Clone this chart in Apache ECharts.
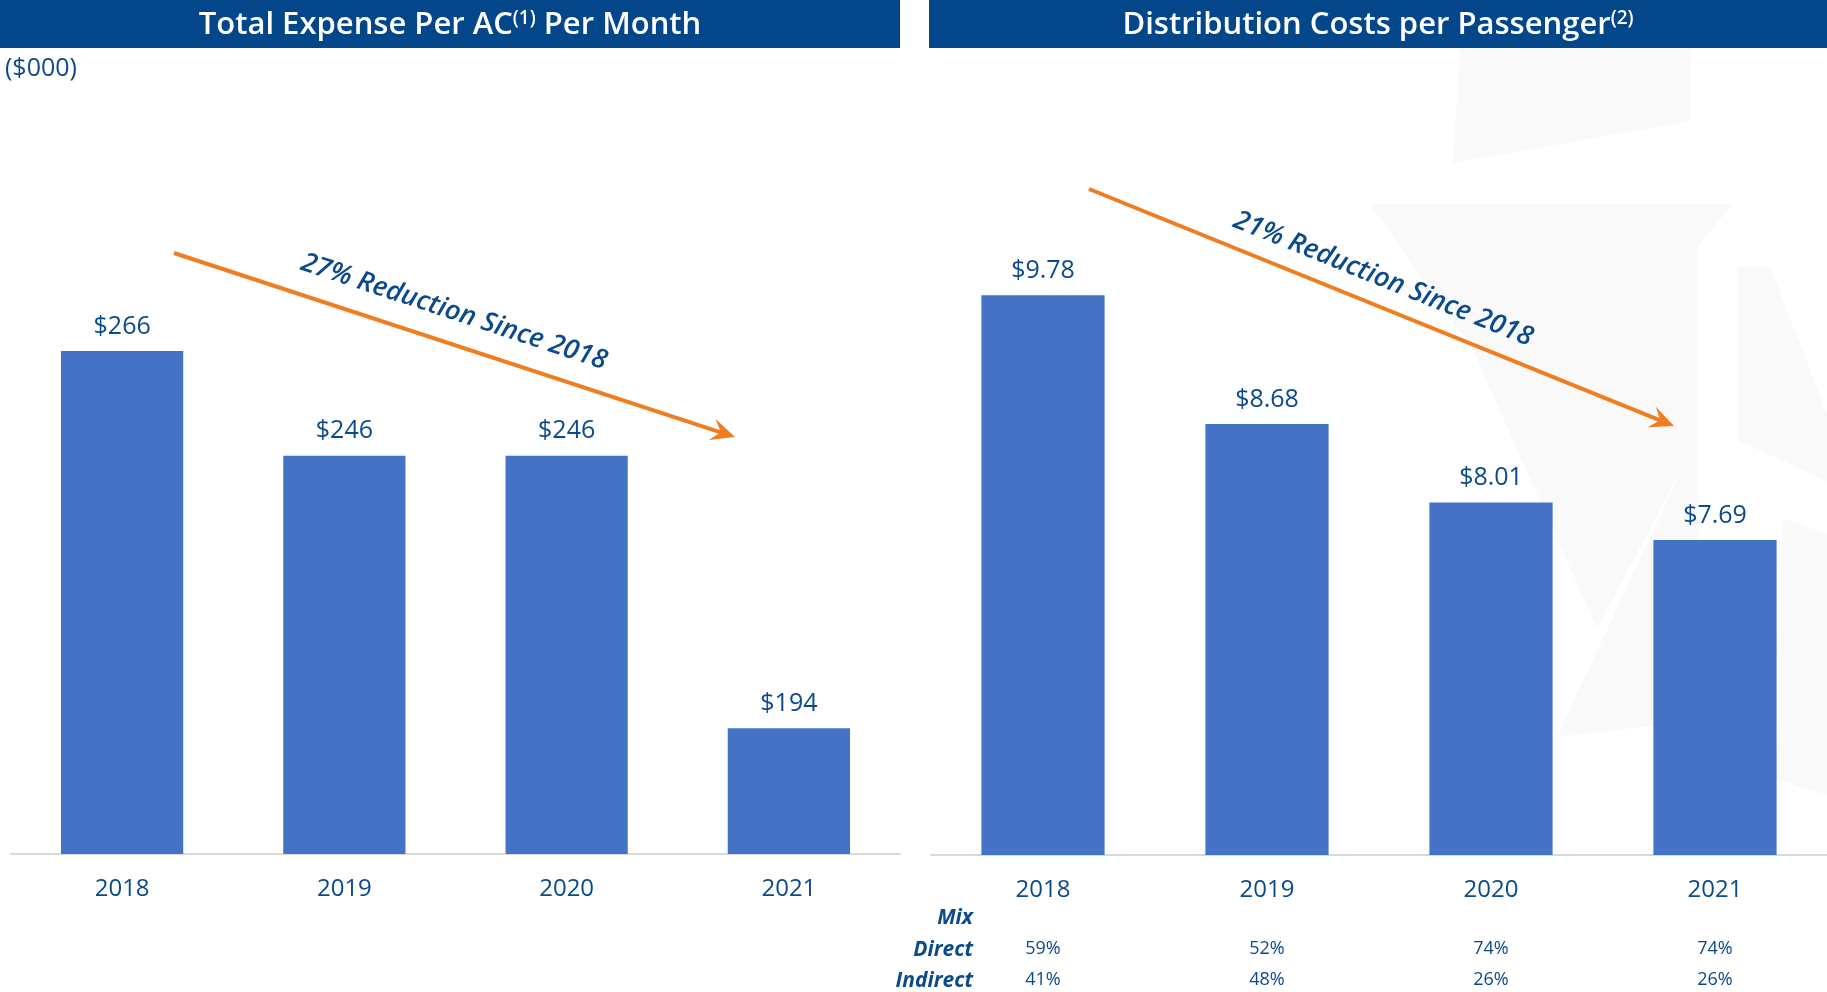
<!DOCTYPE html>
<html>
<head>
<meta charset="utf-8">
<script src="https://cdn.jsdelivr.net/npm/echarts@6/dist/echarts.min.js"></script>
<style>
  html, body { margin: 0; padding: 0; background: #fff; }
  #chart { width: 1827px; height: 992px; }
</style>
</head>
<body>
<div id="chart"></div>
<script>
// data
const years = ['2018', '2019', '2020', '2021'];
const expensePerAc = [266, 246, 246, 194];
const distCostPerPax = [9.78, 8.68, 8.01, 7.69];
const mixDirect = ['59%', '52%', '74%', '74%'];
const mixIndirect = ['41%', '48%', '26%', '26%'];

const NAVY = '#0b4a8b';
const BAR = '#4472c4';
const ORANGE = '#ef7d22';
const FONT = 'Open Sans';

const chart = echarts.init(document.getElementById('chart'));

// arrow made of a line and a notched head
const arrow = (x1, y1, x2, y2) => {
  const len = Math.hypot(x2 - x1, y2 - y1);
  const ux = (x2 - x1) / len, uy = (y2 - y1) / len;
  const px = -uy, py = ux;
  const L = 24, W = 11, N = 15;
  return [
    {
      type: 'line',
      shape: {x1: x1, y1: y1, x2: x2 - ux * N, y2: y2 - uy * N},
      style: {stroke: ORANGE, lineWidth: 4},
      z: 10
    },
    {
      type: 'polygon',
      shape: {
        points: [
          [x2, y2],
          [x2 - ux * L + px * W, y2 - uy * L + py * W],
          [x2 - ux * N, y2 - uy * N],
          [x2 - ux * L - px * W, y2 - uy * L - py * W]
        ]
      },
      style: {fill: ORANGE},
      z: 10
    }
  ];
};

const slopeText = (text, x, y, angleDeg) => ({
  type: 'text',
  x: x, y: y,
  rotation: -angleDeg * Math.PI / 180,
  style: {
    text: text,
    fill: NAVY,
    font: 'italic 600 27px "' + FONT + '"',
    align: 'center',
    verticalAlign: 'middle'
  },
  z: 11
});

const titleText = (text, x) => ({
  type: 'text',
  x: x, y: 25,
  style: {
    text: text,
    fill: '#fff',
    fontFamily: FONT,
    fontSize: 31,
    fontWeight: 600,
    align: 'center',
    verticalAlign: 'middle',
    rich: {
      sup: {fontSize: 19, fontWeight: 600, fill: '#fff', fontFamily: FONT, verticalAlign: 'top', padding: [0, 0, 12, 0]}
    }
  },
  z: 11
});

const watermark = [
  [[1460, 48], [1690, 48], [1690, 121], [1453, 163]],
  [[1370, 204], [1733, 204], [1697, 247], [1697, 440], [1597, 628], [1473, 350]],
  [[1737, 267], [1770, 267], [1827, 413], [1827, 481], [1737, 440]],
  [[1783, 518], [1827, 534], [1827, 795], [1777, 779]],
  [[1557, 737], [1697, 437], [1700, 720]]
].map(pts => ({
  type: 'polygon',
  shape: {points: pts},
  style: {fill: '#f9f9f9'},
  z: -10,
  silent: true
}));

const rowLabel = (text, y) => ({
  type: 'text',
  x: 973, y: y,
  style: {
    text: text,
    fill: NAVY,
    font: 'italic bold 21px "' + FONT + '"',
    align: 'right',
    verticalAlign: 'middle'
  }
});

const xCat = (grid, data, offset, size, showLine) => ({
  type: 'category',
  gridIndex: grid,
  data: data,
  position: 'bottom',
  offset: offset,
  axisLine: {show: showLine, lineStyle: {color: '#d9d9d9', width: 2}},
  axisTick: {show: false},
  axisLabel: {color: NAVY, fontFamily: FONT, fontSize: size, margin: showLine ? 23 : 0}
});

const barLabel = (fmt) => ({
  show: true,
  position: 'top',
  distance: 12,
  color: NAVY,
  fontFamily: FONT,
  fontSize: 25,
  formatter: fmt
});

chart.setOption({
  animation: false,
  grid: [
    {left: 11, width: 889, top: 89, bottom: 138},
    {left: 931, width: 896, top: 89, bottom: 137}
  ],
  xAxis: [
    xCat(0, years, 0, 24, true),
    xCat(1, years, 0, 24, true),
    xCat(1, mixDirect, 85, 18, false),
    xCat(1, mixIndirect, 116, 18, false)
  ],
  yAxis: [
    {type: 'value', gridIndex: 0, min: 170, max: 316, show: false, splitLine: {show: false}},
    {type: 'value', gridIndex: 1, min: 5, max: 11.54, show: false, splitLine: {show: false}}
  ],
  series: [
    {
      type: 'bar',
      xAxisIndex: 0, yAxisIndex: 0,
      data: expensePerAc,
      barWidth: '55%',
      itemStyle: {color: BAR},
      label: barLabel(p => '$' + p.value)
    },
    {
      type: 'bar',
      xAxisIndex: 1, yAxisIndex: 1,
      data: distCostPerPax,
      barWidth: '55%',
      itemStyle: {color: BAR},
      label: barLabel(p => '$' + p.value.toFixed(2))
    }
  ],
  graphic: [
    ...watermark,
    {type: 'rect', shape: {x: 0, y: 0, width: 900, height: 48}, style: {fill: '#03468a'}, z: 10},
    {type: 'rect', shape: {x: 929, y: 0, width: 898, height: 48}, style: {fill: '#03468a'}, z: 10},
    titleText('Total Expense Per AC{sup|(1)} Per Month', 450),
    titleText('Distribution Costs per Passenger{sup|(2)}', 1378),
    {
      type: 'text', x: 5, y: 69,
      style: {text: '($000)', fill: NAVY, font: '25px "' + FONT + '"', align: 'left', verticalAlign: 'middle'}
    },
    ...arrow(174, 253, 735, 437),
    ...arrow(1089, 189, 1674, 426),
    slopeText('27% Reduction Since 2018', 454, 312, 18.2),
    slopeText('21% Reduction Since 2018', 1383, 279, 22),
    rowLabel('Mix', 918),
    rowLabel('Direct', 950),
    rowLabel('Indirect', 981)
  ]
});
</script>
</body>
</html>
